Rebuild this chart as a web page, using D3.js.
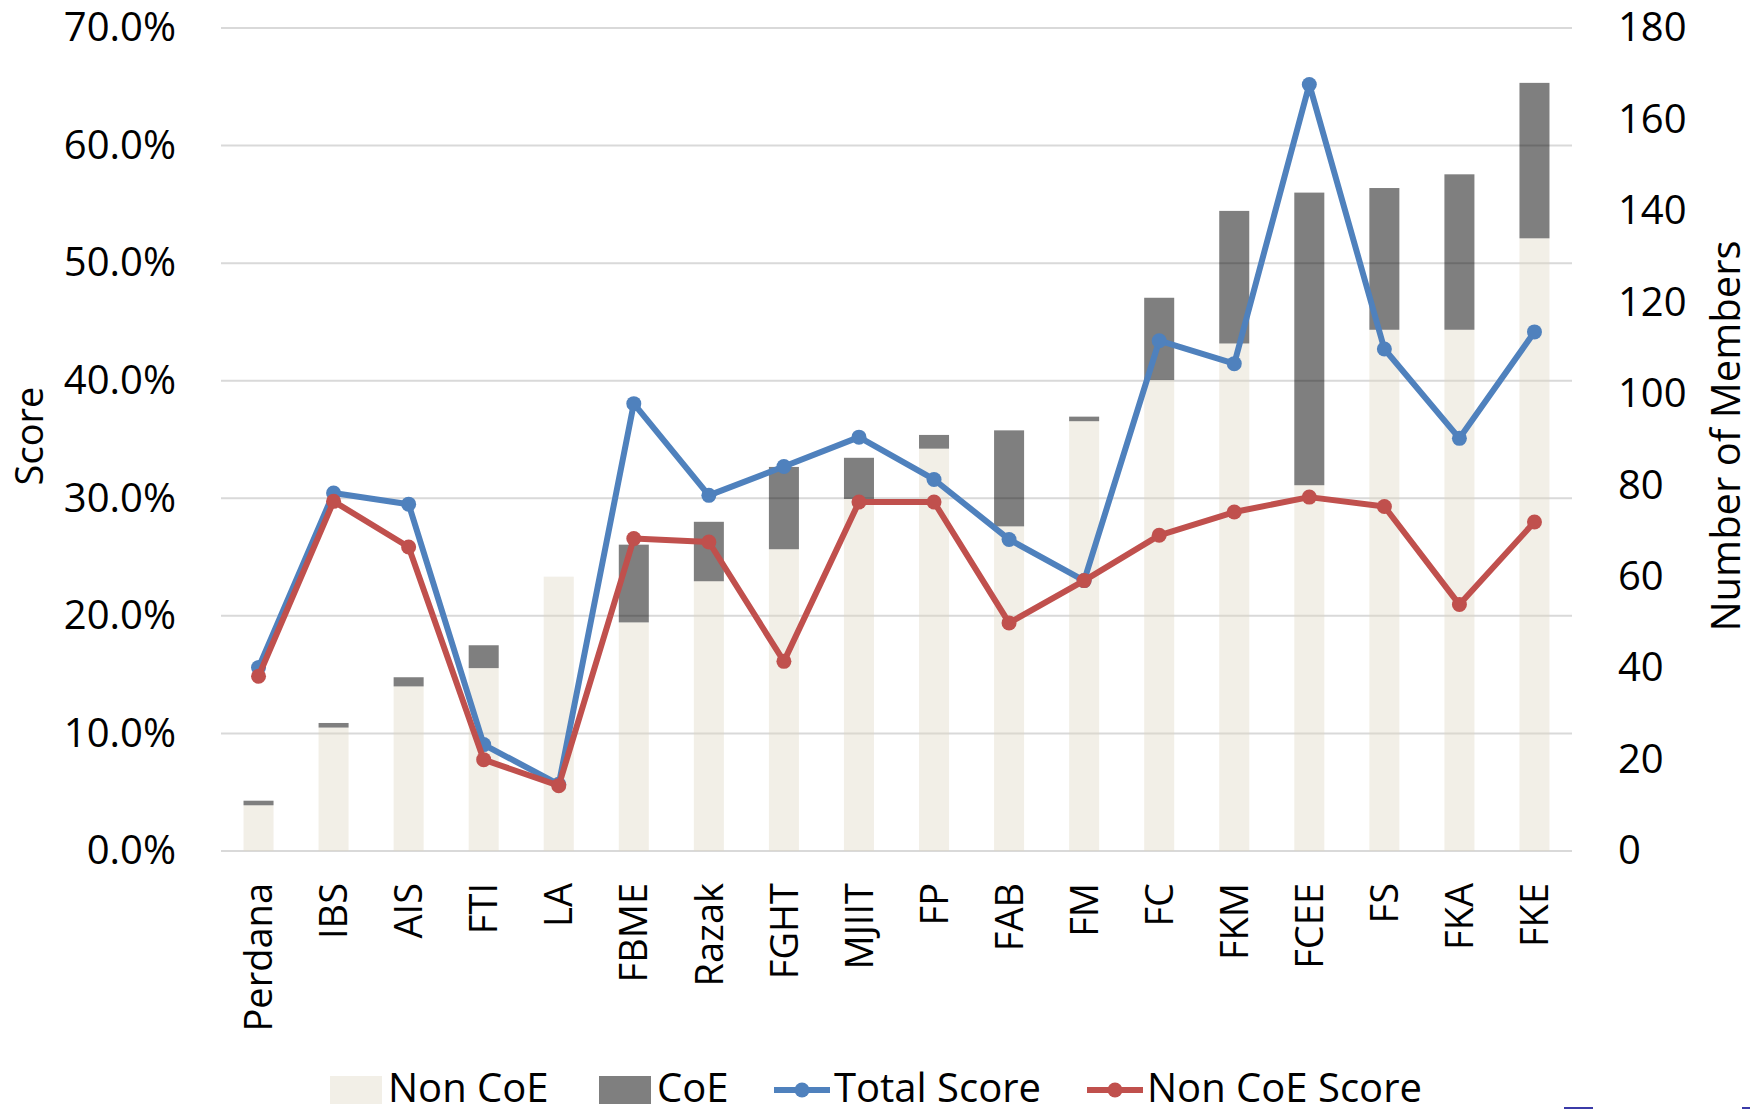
<!DOCTYPE html>
<html>
<head>
<meta charset="utf-8">
<script src="https://cdn.jsdelivr.net/npm/d3@7/dist/d3.min.js"></script>
<style>
  body { margin: 0; background: #fff; }
  svg { display: block; font-family: "Open Sans", "Noto Sans", sans-serif; }
</style>
</head>
<body>
<svg width="1757" height="1109"></svg>
<script>
// data
const categories = ["Perdana", "IBS", "AIS", "FTI", "LA", "FBME", "Razak", "FGHT", "MJIIT",
                    "FP", "FAB", "FM", "FC", "FKM", "FCEE", "FS", "FKA", "FKE"];
const nonCoeMembers = [10, 27, 36, 40, 60, 50, 59, 66, 77, 88, 71, 94, 103, 111, 80, 114, 114, 134];
const coeMembers    = [1, 1, 2, 5, 0, 17, 13, 18, 9, 3, 21, 1, 18, 29, 64, 31, 34, 34];
const totalScore    = [0.156, 0.3045, 0.295, 0.0905, 0.0567, 0.3805, 0.3025, 0.327, 0.352,
                       0.316, 0.265, 0.230, 0.434, 0.4145, 0.652, 0.427, 0.351, 0.4415];
const nonCoeScore   = [0.1486, 0.2974, 0.2586, 0.0777, 0.0556, 0.2657, 0.2628, 0.1613, 0.2968,
                       0.2968, 0.194, 0.230, 0.2685, 0.2883, 0.301, 0.293, 0.2096, 0.2798];
const leftTicks  = [0, 0.1, 0.2, 0.3, 0.4, 0.5, 0.6, 0.7];
const rightTicks = [0, 20, 40, 60, 80, 100, 120, 140, 160, 180];

const svg = d3.select("svg");

const plot = { left: 221, right: 1572, top: 28, bottom: 851 };

const x = d3.scaleBand()
    .domain(categories)
    .range([plot.left, plot.right])
    .padding(0);

const yLeft = d3.scaleLinear()
    .domain([0, 0.7])
    .range([plot.bottom, plot.top]);

const yRight = d3.scaleLinear()
    .domain([0, 180])
    .range([plot.bottom, plot.top]);

const barW = x.bandwidth() * 0.4;
const cx = d => x(d) + x.bandwidth() / 2;

// gridlines
svg.append("g")
    .selectAll("line")
    .data(leftTicks)
    .enter()
    .append("line")
    .attr("x1", plot.left)
    .attr("x2", plot.right)
    .attr("y1", d => yLeft(d))
    .attr("y2", d => yLeft(d))
    .attr("stroke", "#d9d9d9")
    .attr("stroke-width", 2);

// stacked bars (members)
const rows = categories.map((c, i) => ({ cat: c, nonCoe: nonCoeMembers[i], coe: coeMembers[i] }));
const series = d3.stack().keys(["nonCoe", "coe"])(rows);
const barFill = { nonCoe: "rgb(222,215,196)", coe: "#000" };
const barOpacity = { nonCoe: 0.4, coe: 0.5 };

svg.append("g")
    .selectAll("g")
    .data(series)
    .enter()
    .append("g")
    .attr("fill", d => barFill[d.key])
    .attr("fill-opacity", d => barOpacity[d.key])
    .selectAll("rect")
    .data(d => d)
    .enter()
    .append("rect")
    .attr("x", d => cx(d.data.cat) - barW / 2)
    .attr("y", d => yRight(d[1]))
    .attr("width", barW)
    .attr("height", d => yRight(d[0]) - yRight(d[1]));

// lines
const lineSeries = [
    { name: "Total Score", values: totalScore, color: "#4f81bd" },
    { name: "Non CoE Score", values: nonCoeScore, color: "#c0504d" }
];

const line = d3.line()
    .x((d, i) => cx(categories[i]))
    .y(d => yLeft(d));

lineSeries.forEach(s => {
    const g = svg.append("g");
    g.append("path")
        .datum(s.values)
        .attr("d", line)
        .attr("fill", "none")
        .attr("stroke", s.color)
        .attr("stroke-width", 6)
        .attr("stroke-linejoin", "round");
    g.selectAll("circle")
        .data(s.values)
        .enter()
        .append("circle")
        .attr("cx", (d, i) => cx(categories[i]))
        .attr("cy", d => yLeft(d))
        .attr("r", 7.5)
        .attr("fill", s.color);
});

// axes
const leftAxis = svg.append("g")
    .attr("transform", `translate(${plot.left},0)`)
    .call(d3.axisLeft(yLeft).tickValues(leftTicks).tickFormat(d3.format(".1%")).tickSize(0).tickPadding(45));
leftAxis.select(".domain").remove();
leftAxis.selectAll("text").attr("font-size", 40).attr("font-family", "Open Sans").attr("fill", "#000");

const rightAxis = svg.append("g")
    .attr("transform", `translate(${plot.right},0)`)
    .call(d3.axisRight(yRight).tickValues(rightTicks).tickSize(0).tickPadding(46));
rightAxis.select(".domain").remove();
rightAxis.selectAll("text").attr("font-size", 40).attr("font-family", "Open Sans").attr("fill", "#000");

// category labels, rotated
svg.append("g")
    .selectAll("text")
    .data(categories)
    .enter()
    .append("text")
    .attr("transform", d => `translate(${cx(d)},883) rotate(-90)`)
    .attr("text-anchor", "end")
    .attr("dy", "0.36em")
    .attr("font-size", 38)
    .attr("fill", "#000")
    .text(d => d);

// axis titles
svg.append("text")
    .attr("transform", "translate(43,436) rotate(-90)")
    .attr("text-anchor", "middle")
    .attr("font-size", 38)
    .text("Score");

svg.append("text")
    .attr("transform", "translate(1740,436) rotate(-90)")
    .attr("text-anchor", "middle")
    .attr("font-size", 40)
    .text("Number of Members");

// legend
const legend = svg.append("g").attr("font-size", 40);
const legendBars = [
    { name: "Non CoE", key: "nonCoe", x: 330 },
    { name: "CoE", key: "coe", x: 599 }
];
legendBars.forEach(b => {
    legend.append("rect")
        .attr("x", b.x).attr("y", 1076)
        .attr("width", 52).attr("height", 28)
        .attr("fill", barFill[b.key])
        .attr("fill-opacity", barOpacity[b.key]);
    legend.append("text")
        .attr("x", b.x + 58).attr("y", 1102)
        .text(b.name);
});
const legendLines = [774, 1087];
lineSeries.forEach((s, i) => {
    const lx = legendLines[i];
    legend.append("line")
        .attr("x1", lx).attr("x2", lx + 56)
        .attr("y1", 1090).attr("y2", 1090)
        .attr("stroke", s.color).attr("stroke-width", 6);
    legend.append("circle")
        .attr("cx", lx + 28).attr("cy", 1090).attr("r", 7.5)
        .attr("fill", s.color);
    legend.append("text")
        .attr("x", lx + 60).attr("y", 1102)
        .text(s.name);
});

// small clipped marks at the bottom edge of the source image
svg.append("rect").attr("x", 1564).attr("y", 1107).attr("width", 29).attr("height", 2).attr("fill", "#3b3ba8");
svg.append("rect").attr("x", 1742).attr("y", 1107).attr("width", 8).attr("height", 2).attr("fill", "#3b3ba8");
</script>
</body>
</html>
